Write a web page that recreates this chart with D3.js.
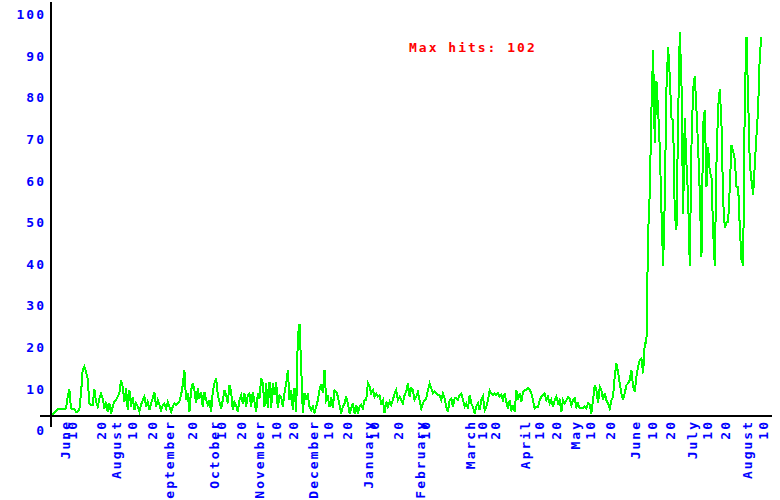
<!DOCTYPE html>
<html>
<head>
<meta charset="utf-8">
<script src="https://cdn.jsdelivr.net/npm/d3@7"></script>
<style>
  html, body { margin: 0; padding: 0; background: #ffffff; }
  svg { display: block; }
  text { font-family: "DejaVu Sans Mono", "Liberation Mono", monospace; font-weight: bold; font-size: 13px; letter-spacing: 2px; }
</style>
</head>
<body>
<svg id="chart" width="780" height="500"></svg>
<script>
// ---- data (daily hits, one value per record) ----
const hits = [
  3.2,3.6,4.2,4.6,5.0,5.0,5.0,5.0,5.0,5.2,
  8.0,9.8,5.2,5.0,5.0,4.4,4.4,4.8,8.8,14.4,
  15.2,14.0,12.4,6.4,6.0,6.0,9.8,6.8,5.6,7.6,
  8.8,7.6,5.2,6.8,4.4,6.4,4.0,5.6,6.8,7.2,
  8.0,8.8,12.0,10.4,6.8,10.0,4.8,9.6,5.6,8.0,
  4.8,6.4,5.6,4.4,6.0,7.2,8.0,5.6,6.8,4.8,
  6.4,7.6,9.0,5.6,7.2,6.0,4.8,6.0,6.4,5.2,
  6.8,5.6,4.4,5.6,6.4,6.0,6.4,6.8,8.4,10.8,
  14.4,7.2,8.8,4.4,9.6,11.2,9.6,6.4,10.0,7.6,
  9.2,5.6,9.2,7.2,6.0,7.2,4.4,9.2,11.2,12.4,
  8.4,6.8,5.2,7.2,9.6,8.4,6.4,10.8,9.2,4.8,
  6.8,6.0,4.4,7.2,8.4,6.4,8.8,5.6,8.4,8.8,
  5.6,9.2,6.8,4.4,8.8,7.6,12.4,11.2,5.6,11.2,
  5.2,11.6,5.2,11.2,8.4,11.6,5.2,8.4,8.0,5.6,
  8.8,11.2,14.4,
  7.2,9.6,4.8,10.0,4.4,22.5,25.5,15.2,4.0,8.8,
  7.6,8.4,5.6,4.8,5.6,4.0,5.6,7.2,9.6,11.0,
  9.0,14.4,7.2,8.0,5.6,8.0,5.2,9.6,9.2,8.0,
  6.0,4.0,5.6,6.4,8.0,6.4,4.0,5.2,6.4,4.0,
  6.0,4.0,5.6,6.0,5.2,7.2,7.2,11.2,10.4,8.8,
  9.6,8.0,8.8,8.0,8.4,6.4,7.2,4.0,6.8,5.6,
  6.8,6.0,7.2,8.8,9.6,7.2,8.0,7.2,6.4,8.4,
  9.2,11.2,8.0,10.0,9.6,7.2,8.0,9.2,7.2,5.2,
  6.4,7.2,7.6,9.6,11.2,10.0,8.8,9.2,8.8,8.4,
  8.4,7.2,8.8,7.6,5.6,4.4,7.2,7.6,5.6,7.6,
  7.6,7.2,8.4,8.8,7.2,5.6,6.4,5.2,8.4,6.4,
  5.6,4.0,5.6,6.4,4.8,7.2,8.0,4.8,5.6,7.2,
  9.6,8.8,8.4,8.8,8.4,8.8,8.0,8.4,7.2,8.8,
  6.8,5.2,7.2,4.8,5.6,4.4,9.6,7.2,8.8,6.8,
  9.2,9.6,9.6,10.0,
  9.6,8.8,7.2,5.2,5.6,5.6,7.2,8.0,8.4,8.8,
  7.2,8.0,6.4,7.2,5.6,7.2,8.0,6.4,7.2,4.4,
  7.2,6.4,7.2,8.0,7.6,6.0,7.2,7.6,5.6,6.4,
  5.2,5.2,5.2,5.6,5.2,6.4,6.0,4.0,7.2,10.8,
  9.6,6.4,10.4,9.6,7.2,8.8,7.2,6.4,5.2,7.2,
  8.0,12.8,16.0,14.0,11.2,8.8,7.2,8.8,10.8,11.2,
  12.0,14.4,10.4,9.2,12.8,15.2,16.8,17.2,13.6,20.8,
  20.8,
  47.0,57.0,77.0,91.3,69.0,84.0,77.0,68.0,53.0,39.5,
  55.0,82.0,92.0,85.0,75.0,74.5,52.0,48.0,74.5,95.6,
  84.0,52.0,75.0,64.0,56.0,39.5,68.0,82.0,85.0,77.0,
  68.0,57.0,41.5,73.5,77.0,58.5,68.0,62.0,61.0,47.8,
  39.5,64.0,77.5,82.0,73.5,55.0,48.5,50.0,50.0,58.5,
  68.4,67.0,65.0,58.5,58.5,48.5,41.0,39.5,80.0,94.5,
  79.5,63.7,60.0,56.5,64.0,70.7,77.5,90.5,94.5
];

// x tick labels and the record index they sit at
const tickLabels = ["June","10","20","August","10","20","September","20","October","10","20",
  "November","10","20","December","10","20","January","10","20","February","10",
  "March","10","20","April","10","20","May","10","20","June","10","20","July","10","20","August","10"];
const tickIndex = [8.4,12.6,30,39,48.6,60.6,70.7,84.5,97.7,102,114,
  124.7,134.9,145,157,166,177.5,190,193.6,208,221,224,
  251,258.4,266,284,292.6,302.8,314,323,335,350,360,371,384,393,404,417,427];

const yTicks = [0,10,20,30,40,50,60,70,80,90,100];
const maxHits = 102;

// ---- drawing ----
const svg = d3.select("#chart");

const x = d3.scaleLinear().domain([0, hits.length - 1]).range([51, 761.5]);
const y = d3.scaleLinear().domain([0, 100]).range([430, 14]);

// y axis labels
const yAxis = d3.axisLeft(y).tickValues(yTicks).tickSize(0).tickPadding(0).tickFormat(d3.format("d"));
const gy = svg.append("g").attr("transform", "translate(46,0)").call(yAxis);
gy.select(".domain").remove();
gy.selectAll("text").attr("fill", "#0000ff").attr("dy", "0.36em");

// x axis labels (rotated)
const labelOf = new Map(tickIndex.map((t, i) => [t, tickLabels[i]]));
const xAxis = d3.axisBottom(x).tickValues(tickIndex).tickSize(0).tickFormat(d => labelOf.get(d));
const gx = svg.append("g").attr("transform", "translate(0,416)").call(xAxis);
gx.select(".domain").remove();
gx.selectAll("text")
  .attr("fill", "#0000ff")
  .attr("transform", "rotate(-90)")
  .attr("x", -4)
  .attr("y", 0)
  .attr("dy", "0.36em")
  .style("text-anchor", "end");

// data line
const line = d3.line().x((d, i) => x(i)).y(d => y(d));
svg.append("path")
  .datum(hits)
  .attr("d", line)
  .attr("fill", "none")
  .attr("stroke", "#00ff00")
  .attr("stroke-width", 2)
  .attr("shape-rendering", "crispEdges");

// axes lines
svg.append("line").attr("x1", 51).attr("x2", 51).attr("y1", 2).attr("y2", 427)
  .attr("stroke", "#000").attr("stroke-width", 2);
svg.append("line").attr("x1", 40).attr("x2", 772).attr("y1", 416).attr("y2", 416)
  .attr("stroke", "#000").attr("stroke-width", 2);

// title
svg.append("text")
  .attr("x", 409).attr("y", 52)
  .attr("fill", "#ff0000")
  .text("Max hits: " + maxHits);
</script>
</body>
</html>
